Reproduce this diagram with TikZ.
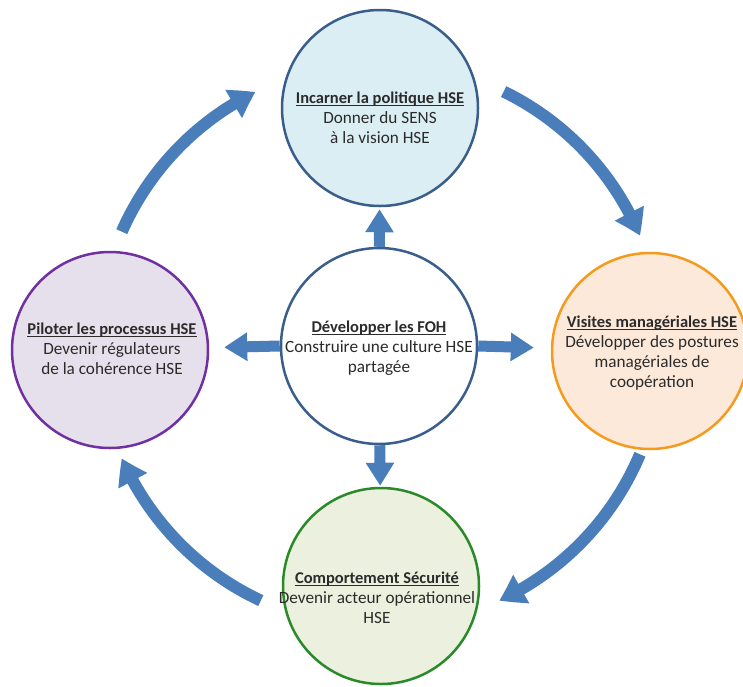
\documentclass[tikz,border=0pt]{standalone}
\usepackage{fontspec}
\setmainfont{Carlito}
\usetikzlibrary{arrows.meta,bending}
\definecolor{arrowblue}{HTML}{4A7EBB}
\definecolor{darkblue}{HTML}{3A5E8C}
\definecolor{topfill}{HTML}{DBEEF4}
\definecolor{leftfill}{HTML}{E6E0EC}
\definecolor{leftline}{HTML}{7030A0}
\definecolor{rightfill}{HTML}{FDE9D9}
\definecolor{rightline}{HTML}{F59A1E}
\definecolor{botfill}{HTML}{EBF1DE}
\definecolor{botline}{HTML}{2A8A2A}
\definecolor{txtcol}{HTML}{2B2B2B}
\newcommand{\headline}[1]{{\fontsize{16.5}{20}\selectfont\bfseries\underline{\smash{#1}\vphantom{Ééf}}}}
\tikzset{
  circ/.style={circle, minimum size=196pt, inner sep=0pt, line width=2.5pt},
  txt/.style={align=center, text=txtcol, font=\fontsize{17.2}{20}\selectfont, inner sep=0pt},
  straightarrow/.style={draw=arrowblue, line width=11pt, -{Triangle[width=27pt,length=23pt]}},
  curvearrow/.style={draw=arrowblue, line width=12pt, -{Triangle[width=31pt,length=25pt,bend]}},
}
\begin{document}
\begin{tikzpicture}[x=1pt,y=1pt]
\path[use as bounding box] (0,0) rectangle (743,-686);
% circles
\node[circ, draw=darkblue, fill=topfill] (top) at (380,-108) {};
\node[circ, draw=darkblue, fill=white] (mid) at (379,-346) {};
\node[circ, draw=leftline, fill=leftfill] (left) at (110,-350) {};
\node[circ, draw=rightline, fill=rightfill] (right) at (650,-351) {};
\node[circ, draw=botline, fill=botfill] (bot) at (381,-586) {};
% texts
\node[txt] (toptxt) at (380,-117) {\headline{Incarner la politique HSE}\\Donner du SENS\\à la vision HSE};
\node[txt] (midtxt) at (379,-347) {\headline{Développer les FOH}\\Construire une culture HSE\\partagée};
\node[txt] (lefttxt) at (112,-348) {\headline{Piloter les processus HSE}\\Devenir régulateurs\\de la cohérence HSE};
\node[txt] (righttxt) at (652,-352) {\headline{Visites managériales HSE}\\Développer des postures\\managériales de\\coopération};
\node[txt] (bottxt) at (377,-597) {\headline{Comportement Sécurité}\\Devenir acteur opérationnel\\HSE};
% straight arrows
\draw[straightarrow, shorten >=2pt] (mid) -- (top);
\draw[straightarrow, shorten >=1pt] (mid) -- (bot);
\draw[straightarrow, shorten >=15pt] (mid.west) -- (left);
\draw[straightarrow, shorten >=17pt] (mid.east) -- (right);
% curved arrows on a large circle round the middle node
\coordinate (O) at (380,-345);
\draw[curvearrow] ([shift={(156.3:282)}]O) arc[start angle=156.3, end angle=116.2, radius=282];
\draw[curvearrow] ([shift={(64:282)}]O) arc[start angle=64, end angle=22.8, radius=282];
\draw[curvearrow] ([shift={(-22.8:282)}]O) arc[start angle=-22.8, end angle=-65, radius=282];
\draw[curvearrow] ([shift={(-115:282)}]O) arc[start angle=-115, end angle=-156.3, radius=282];
\end{tikzpicture}
\end{document}
